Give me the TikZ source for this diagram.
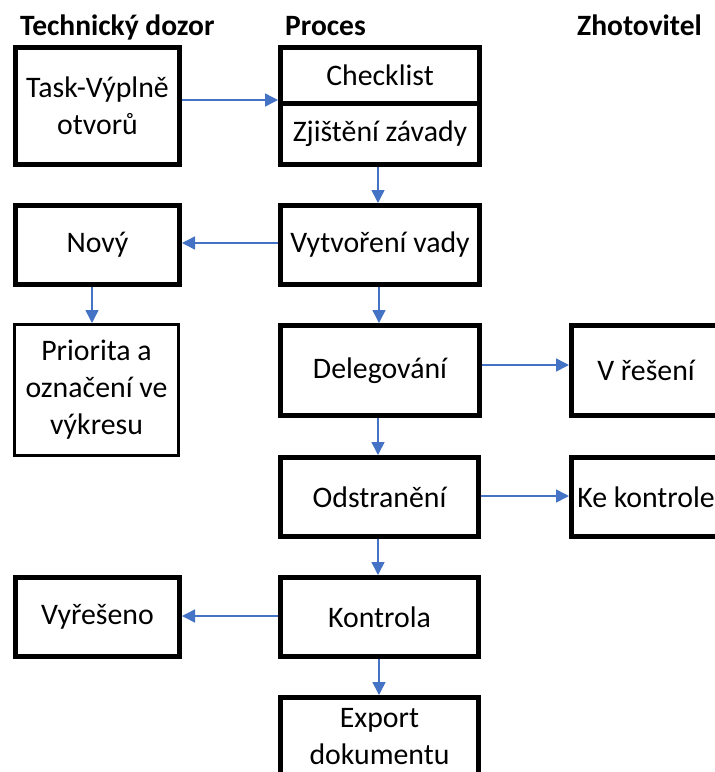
\documentclass[tikz,border=0pt]{standalone}
\usepackage{fontspec}
\setmainfont{Carlito}
\usetikzlibrary{arrows.meta}
\definecolor{arrblue}{RGB}{68,114,196}
\begin{document}
\begin{tikzpicture}[x=1pt,y=-1pt,
  box/.style={draw=black, line width=5pt, fill=white, inner sep=0pt, align=center,
    font=\fontsize{29.8}{37}\selectfont},
  thinbox/.style={box, line width=3pt},
  head/.style={anchor=base west, inner sep=0pt, font=\fontsize{29.5}{36}\selectfont\bfseries},
  arr/.style={draw=arrblue, line width=1.5pt, -{Triangle[width=13pt,length=13pt]}}]
\clip (0,0) rectangle (715,772);
\fill[white] (0,0) rectangle (715,772);

% headings
\node[head] (h1) at (20,35) {Technický dozor};
\node[head] (h2) at (285,35) {Proces};
\node[head] (h3) at (577,35) {Zhotovitel};

% boxes
\node[box, minimum width=164pt, minimum height=117pt] (task) at (97.5,106) {Task-Výplně\\otvorů};
\node[box, minimum width=199pt, minimum height=55.5pt] (check) at (380,75.25) {Checklist};
\node[box, minimum width=199pt, minimum height=61.5pt] (zjist) at (380,133.75) {Zjištění závady};
\node[box, minimum width=164pt, minimum height=79pt] (nov) at (97.5,245) {Nový};
\node[box, minimum width=199pt, minimum height=79pt] (vytv) at (380,245) {Vytvoření vady};
\node[thinbox, minimum width=164pt, minimum height=131pt] (prior) at (96.5,390) {Priorita a\\označení ve\\výkresu};
\node[box, minimum width=199pt, minimum height=90pt] (deleg) at (380,370.5) {Delegování};
\node[box, minimum width=149pt, minimum height=90pt] (vres) at (646,370.5) {V řešení};
\node[box, minimum width=198pt, minimum height=79pt] (odstr) at (379.5,497) {Odstranění};
\node[box, minimum width=149pt, minimum height=79pt] (kek) at (646,497) {Ke kontrole};
\node[box, minimum width=198pt, minimum height=79pt] (kontr) at (379.5,617) {Kontrola};
\node[box, minimum width=164pt, minimum height=79pt] (vyr) at (97.5,617) {Vyřešeno};
\node[box, minimum width=198pt, minimum height=79pt] (export) at (379.5,737) {Export\\dokumentu};

% connectors
\draw[arr] (task.east |- 0,100) -- (check.west |- 0,100);
\draw[arr] (zjist.south -| 378,0) -- (vytv.north -| 378,0);
\draw[arr] (vytv.west |- 0,243) -- (nov.east |- 0,243);
\draw[arr] (nov.south -| 92,0) -- (prior.north -| 92,0);
\draw[arr] (vytv.south -| 379,0) -- (deleg.north -| 379,0);
\draw[arr] (deleg.east |- 0,365) -- (vres.west |- 0,365);
\draw[arr] (deleg.south -| 378,0) -- (odstr.north -| 378,0);
\draw[arr] (odstr.east |- 0,496) -- (kek.west |- 0,496);
\draw[arr] (odstr.south -| 378,0) -- (kontr.north -| 378,0);
\draw[arr] (kontr.west |- 0,616) -- (vyr.east |- 0,616);
\draw[arr] (kontr.south -| 379,0) -- (export.north -| 379,0);
\end{tikzpicture}
\end{document}
